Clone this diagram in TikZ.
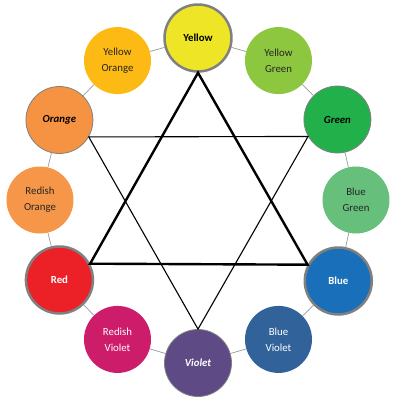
\documentclass[tikz,border=0pt]{standalone}
\usepackage{fontspec}
\setmainfont{Carlito}
\definecolor{cyellow}{RGB}{237,229,37}
\definecolor{cyorange}{RGB}{253,186,20}
\definecolor{corange}{RGB}{245,147,67}
\definecolor{cretorange}{RGB}{245,150,72}
\definecolor{cred}{RGB}{236,32,39}
\definecolor{crviolet}{RGB}{204,28,106}
\definecolor{cviolet}{RGB}{94,75,134}
\definecolor{cbviolet}{RGB}{49,98,154}
\definecolor{cblue}{RGB}{26,111,186}
\definecolor{cbgreen}{RGB}{103,191,124}
\definecolor{cgreen}{RGB}{34,176,75}
\definecolor{cygreen}{RGB}{141,198,63}
\definecolor{ringgray}{RGB}{128,128,128}
\usetikzlibrary{positioning}

\begin{document}
\begin{tikzpicture}[
    x=1pt, y=1pt,
    hue/.style={circle, minimum size=67pt, inner sep=0pt, align=center, font=\fontsize{10.8}{16}\selectfont},
    primary/.style={hue, draw=ringgray, line width=2.5pt, font=\fontsize{10.8}{16}\selectfont\bfseries},
    secondary/.style={hue, draw=ringgray, line width=0.8pt, font=\fontsize{10.8}{16}\selectfont\bfseries\itshape},
    tertiary/.style={hue, text=black!85},
    rim/.style={draw=ringgray!80, line width=0.7pt},
    bigtri/.style={draw=black, line width=2.4pt},
    smalltri/.style={draw=black, line width=1.1pt}
]
\useasboundingbox (-198,-200) rectangle (202,200);

% colour wheel
\node[primary, fill=cyellow] (yellow) at (90:162) {Yellow};
\node[tertiary, fill=cygreen] (ygreen) at (60:161) {Yellow\\Green};
\node[secondary, fill=cgreen] (green) at (30:161) {Green};
\node[tertiary, fill=cbgreen] (bgreen) at (0:158) {Blue\\Green};
\node[primary, fill=cblue, text=white] (blue) at (-30:162) {Blue};
\node[tertiary, fill=cbviolet, text=white] (bviolet) at (-60:161) {Blue\\Violet};
\node[secondary, fill=cviolet, text=white] (violet) at (-90:163) {Violet};
\node[tertiary, fill=crviolet, text=white] (rviolet) at (-120:161) {Redish\\Violet};
\node[primary, fill=cred, text=white] (red) at (-150:160) {Red};
\node[tertiary, fill=cretorange] (rorange) at (180:158) {Redish\\Orange};
\node[secondary, fill=corange] (orange) at (150:160) {Orange};
\node[tertiary, fill=cyorange] (yorange) at (120:161) {Yellow\\Orange};

% rim
\draw[rim] (yellow) -- (ygreen);
\draw[rim] (ygreen) -- (green);
\draw[rim] (green) -- (bgreen);
\draw[rim] (bgreen) -- (blue);
\draw[rim] (blue) -- (bviolet);
\draw[rim] (bviolet) -- (violet);
\draw[rim] (violet) -- (rviolet);
\draw[rim] (rviolet) -- (red);
\draw[rim] (red) -- (rorange);
\draw[rim] (rorange) -- (orange);
\draw[rim] (orange) -- (yorange);
\draw[rim] (yorange) -- (yellow);

% triangles
\draw[bigtri] (yellow.south) -- (red.28) -- (blue.152) -- cycle;
\draw[smalltri] (orange.-30) -- (green.210) -- (violet.north) -- cycle;
\end{tikzpicture}
\end{document}
